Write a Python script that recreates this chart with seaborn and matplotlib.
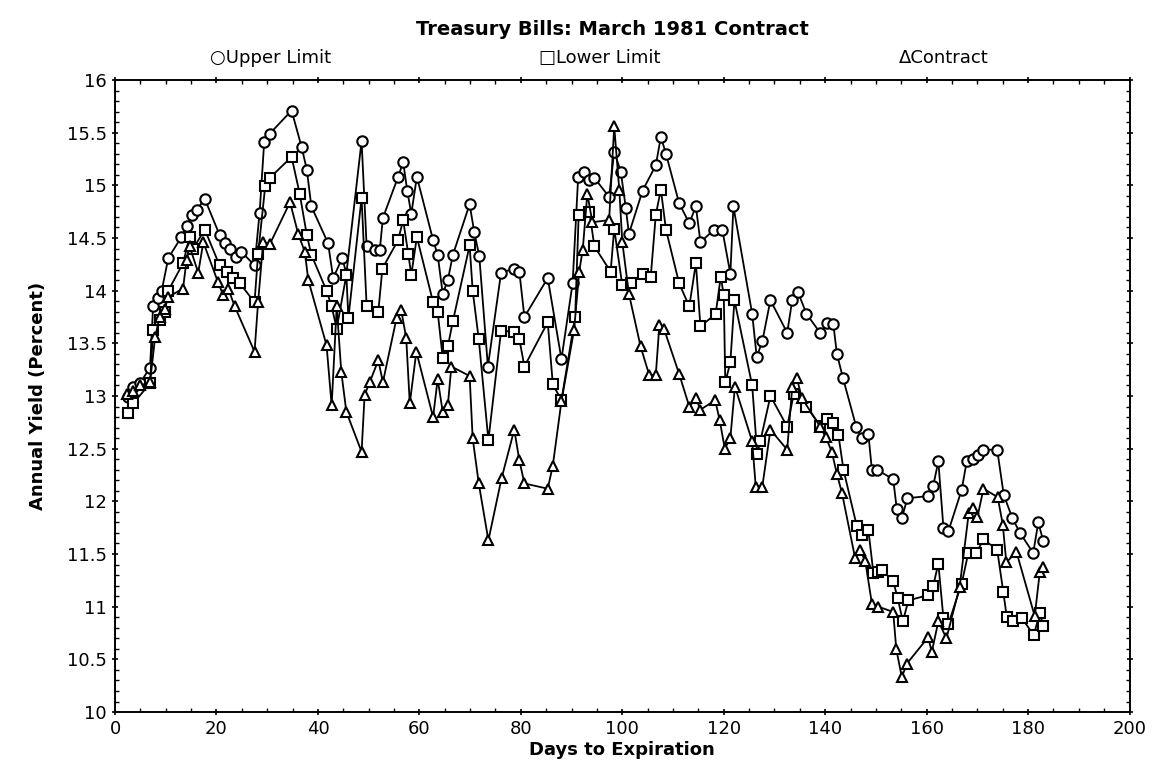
import matplotlib
matplotlib.use("Agg")
import matplotlib.pyplot as plt
import seaborn as sns
import pandas as pd
from matplotlib.ticker import MultipleLocator

# ---- data ----
days_upper = [2.6, 3.6, 4.9, 6.9, 7.5, 8.5, 9.2, 10.5, 13.1, 14.1,
              15.1, 16.1, 17.7, 20.6, 21.6, 22.6, 23.9, 24.9, 27.5, 28.5,
              29.4, 30.5, 34.8, 36.8, 37.8, 38.7, 42.0, 43.0, 44.8, 45.6,
              48.6, 49.6, 51.2, 52.2, 52.8, 55.8, 56.8, 57.6, 58.4, 59.5,
              62.7, 63.6, 64.6, 65.6, 66.6, 69.9, 70.8, 71.8, 73.5, 76.1,
              78.7, 79.7, 80.7, 85.3, 88.0, 90.2, 91.3, 92.5, 93.5, 94.5,
              97.4, 98.4, 99.7, 100.7, 101.3, 104.0, 106.6, 107.6, 108.6, 111.2,
              113.2, 114.5, 115.4, 118.1, 119.7, 121.3, 121.9, 125.6, 126.5, 127.6,
              129.2, 132.5, 133.5, 134.6, 136.3, 139.0, 140.3, 141.6, 142.3, 143.5,
              146.1, 147.2, 148.5, 149.2, 150.2, 153.4, 154.1, 155.1, 156.2, 160.3,
              161.3, 162.3, 163.3, 164.3, 166.9, 167.9, 169.2, 170.2, 171.2, 173.9,
              175.2, 176.9, 178.4, 181.0, 182.0, 183.0]
upper_limit = [12.99, 13.09, 13.12, 13.27, 13.85, 13.93, 14.0, 14.31, 14.51, 14.61,
               14.72, 14.77, 14.87, 14.53, 14.45, 14.40, 14.32, 14.37, 14.24, 14.74,
               15.41, 15.49, 15.71, 15.36, 15.15, 14.80, 14.45, 14.12, 14.31, 14.16,
               15.42, 14.42, 14.39, 14.39, 14.69, 15.08, 15.22, 14.95, 14.73, 15.08,
               14.48, 14.34, 13.97, 14.10, 14.34, 14.82, 14.56, 14.33, 13.28, 14.17,
               14.21, 14.18, 13.75, 14.12, 13.35, 14.07, 15.08, 15.13, 15.05, 15.07,
               14.89, 15.32, 15.13, 14.78, 14.54, 14.95, 15.19, 15.46, 15.30, 14.83,
               14.64, 14.80, 14.46, 14.58, 14.58, 14.16, 14.80, 13.78, 13.37, 13.52,
               13.91, 13.60, 13.91, 13.99, 13.78, 13.60, 13.69, 13.68, 13.40, 13.17,
               12.71, 12.60, 12.64, 12.30, 12.30, 12.21, 11.93, 11.84, 12.03, 12.05,
               12.15, 12.38, 11.75, 11.72, 12.11, 12.38, 12.40, 12.44, 12.49, 12.49,
               12.06, 11.84, 11.70, 11.51, 11.80, 11.62]

days_lower = [2.6, 3.6, 6.9, 7.5, 8.8, 9.8, 10.5, 13.4, 14.7, 15.4,
              17.7, 20.6, 22.0, 23.3, 24.6, 27.5, 28.2, 29.6, 30.5, 34.8,
              36.4, 37.8, 38.7, 41.7, 42.7, 43.7, 45.6, 46.0, 48.6, 49.6,
              51.9, 52.7, 55.8, 56.8, 57.8, 58.4, 59.5, 62.7, 63.6, 64.6,
              65.6, 66.6, 69.9, 70.5, 71.7, 73.6, 76.1, 78.7, 79.7, 80.7,
              85.3, 86.3, 88.0, 90.7, 91.4, 93.5, 94.5, 97.7, 98.4, 100.0,
              101.7, 104.0, 105.6, 106.6, 107.6, 108.6, 111.2, 113.2, 114.5, 115.4,
              118.4, 119.4, 120.0, 120.3, 121.3, 122.1, 125.6, 126.6, 127.2, 129.2,
              132.5, 133.8, 136.3, 139.0, 140.3, 141.6, 142.6, 143.6, 146.2, 147.2,
              148.5, 149.5, 150.5, 151.2, 153.4, 154.3, 155.3, 156.4, 160.3, 161.3,
              162.3, 163.3, 164.3, 166.9, 168.2, 169.8, 171.2, 173.9, 175.1, 175.8,
              177.1, 178.8, 181.1, 182.3, 183.0]
lower_limit = [12.84, 12.93, 13.12, 13.63, 13.72, 13.80, 14.0, 14.26, 14.51, 14.40,
               14.58, 14.24, 14.18, 14.12, 14.07, 13.89, 14.35, 14.99, 15.07, 15.27,
               14.92, 14.53, 14.34, 14.0, 13.85, 13.64, 14.15, 13.74, 14.88, 13.85,
               13.80, 14.21, 14.48, 14.67, 14.35, 14.15, 14.51, 13.89, 13.80, 13.36,
               13.47, 13.71, 14.43, 14.0, 13.54, 12.58, 13.62, 13.61, 13.54, 13.28,
               13.70, 13.11, 12.96, 13.75, 14.72, 14.75, 14.42, 14.18, 14.59, 14.05,
               14.07, 14.16, 14.13, 14.72, 14.96, 14.58, 14.07, 13.85, 14.26, 13.66,
               13.78, 14.13, 13.96, 13.13, 13.32, 13.91, 13.10, 12.45, 12.57, 13.0,
               12.71, 13.02, 12.90, 12.72, 12.78, 12.74, 12.63, 12.30, 11.77, 11.68,
               11.73, 11.32, 11.33, 11.35, 11.24, 11.08, 10.86, 11.06, 11.11, 11.20,
               11.41, 10.89, 10.84, 11.22, 11.51, 11.51, 11.64, 11.54, 11.14, 10.90,
               10.86, 10.89, 10.73, 10.94, 10.82]

days_contract = [2.3, 3.6, 4.9, 6.9, 7.9, 8.8, 9.8, 10.5, 13.4, 14.1,
                 14.7, 16.4, 17.4, 20.3, 21.3, 22.3, 23.6, 27.5, 28.2, 29.2,
                 30.5, 34.5, 36.1, 37.4, 38.1, 41.7, 42.7, 43.7, 44.6, 45.6,
                 48.6, 49.2, 50.2, 51.9, 52.8, 55.5, 56.4, 57.4, 58.1, 59.4,
                 62.7, 63.6, 64.6, 65.6, 66.3, 69.9, 70.5, 71.7, 73.6, 76.2,
                 78.7, 79.7, 80.7, 85.3, 86.3, 88.0, 90.5, 91.5, 92.2, 93.1,
                 94.1, 97.4, 98.4, 99.4, 100.0, 101.3, 103.6, 105.3, 106.6, 107.3,
                 108.2, 111.2, 113.2, 114.5, 115.4, 118.3, 119.2, 120.2, 121.3, 122.2,
                 125.6, 126.3, 127.6, 129.2, 132.5, 133.5, 134.4, 135.4, 139.0, 140.1,
                 141.3, 142.3, 143.3, 145.9, 146.9, 147.9, 149.2, 150.5, 153.4, 154.0,
                 155.1, 156.1, 160.3, 161.0, 162.3, 163.9, 166.5, 168.3, 169.2, 170.0,
                 171.2, 174.0, 175.0, 175.7, 177.7, 181.3, 182.3, 183.0]
contract = [13.02, 13.05, 13.10, 13.13, 13.56, 13.75, 13.83, 13.94, 14.02, 14.29,
            14.42, 14.17, 14.46, 14.08, 13.96, 14.02, 13.85, 13.42, 13.89, 14.46,
            14.44, 14.84, 14.54, 14.37, 14.10, 13.48, 12.91, 13.85, 13.23, 12.85,
            12.47, 13.01, 13.13, 13.34, 13.13, 13.74, 13.82, 13.55, 12.93, 13.42,
            12.80, 13.16, 12.85, 12.91, 13.28, 13.19, 12.60, 12.17, 11.63, 12.22,
            12.68, 12.39, 12.17, 12.12, 12.34, 12.95, 13.63, 14.18, 14.39, 14.92,
            14.65, 14.67, 15.56, 14.96, 14.46, 13.97, 13.47, 13.20, 13.20, 13.67,
            13.64, 13.21, 12.90, 12.98, 12.87, 12.96, 12.77, 12.50, 12.60, 13.09,
            12.57, 12.14, 12.14, 12.68, 12.49, 13.09, 13.17, 12.98, 12.71, 12.61,
            12.47, 12.26, 12.08, 11.46, 11.54, 11.43, 11.03, 11.00, 10.95, 10.60,
            10.33, 10.46, 10.71, 10.57, 10.86, 10.70, 11.19, 11.89, 11.94, 11.85,
            12.12, 12.04, 11.78, 11.42, 11.52, 10.91, 11.33, 11.38]

series_names = ["Upper Limit", "Lower Limit", "Contract"]
legend_symbols = ["\u25cb", "\u25a1", "\u0394"]
x_ticks = [0, 20, 40, 60, 80, 100, 120, 140, 160, 180, 200]
y_ticks = [10, 10.5, 11, 11.5, 12, 12.5, 13, 13.5, 14, 14.5, 15, 15.5, 16]
y_tick_labels = ["10", "10.5", "11", "11.5", "12", "12.5", "13", "13.5",
                 "14", "14.5", "15", "15.5", "16"]

# ---- plotting ----
sns.set_style("ticks")
plt.rcParams["font.family"] = ["DejaVu Sans"]
for key in ["text.color", "axes.labelcolor", "xtick.color", "ytick.color",
            "axes.edgecolor"]:
    plt.rcParams[key] = "black"

fig = plt.figure(figsize=(11.55, 7.81), dpi=100)
ax = fig.add_axes([0.0996, 0.0883, 0.8784, 0.8093])

frames = [
    pd.DataFrame({"day": days_upper, "yield": upper_limit}),
    pd.DataFrame({"day": days_lower, "yield": lower_limit}),
    pd.DataFrame({"day": days_contract, "yield": contract}),
]
markers = ["o", "s", "^"]
for df, mk in zip(frames, markers):
    sns.lineplot(data=df, x="day", y="yield", ax=ax, estimator=None, sort=False,
                 color="black", linewidth=1.3, marker=mk, markersize=7.5,
                 markerfacecolor="white", markeredgecolor="black",
                 markeredgewidth=1.5)

ax.set_xlim(0, 200)
ax.set_ylim(10, 16)
ax.set_xticks(x_ticks)
ax.set_yticks(y_ticks)
ax.set_yticklabels(y_tick_labels)
ax.xaxis.set_minor_locator(MultipleLocator(5))
ax.yaxis.set_minor_locator(MultipleLocator(0.1))
ax.tick_params(axis="both", which="major", labelsize=13, length=5, width=1.2,
               direction="inout", top=True, right=True, colors="black")
ax.tick_params(axis="both", which="minor", length=3, width=1,
               direction="in", top=True, right=True, colors="black")
for s in ax.spines.values():
    s.set_linewidth(1.4)
    s.set_color("black")

ax.set_xlabel("Days to Expiration", fontsize=13, fontweight="bold", labelpad=2,
              color="black")
ax.set_ylabel("Annual Yield (Percent)", fontsize=13, fontweight="bold",
              labelpad=14, color="black")

fig.text(0.530, 0.962, "Treasury Bills: March 1981 Contract", ha="center",
         va="center", fontsize=14, fontweight="bold", color="black")
legend_x = [0.182, 0.467, 0.778]
for xpos, sym, name in zip(legend_x, legend_symbols, series_names):
    fig.text(xpos, 0.926, sym + name, ha="left", va="center", fontsize=13,
             color="black")

fig.savefig("out.png", dpi=100, facecolor="white")
